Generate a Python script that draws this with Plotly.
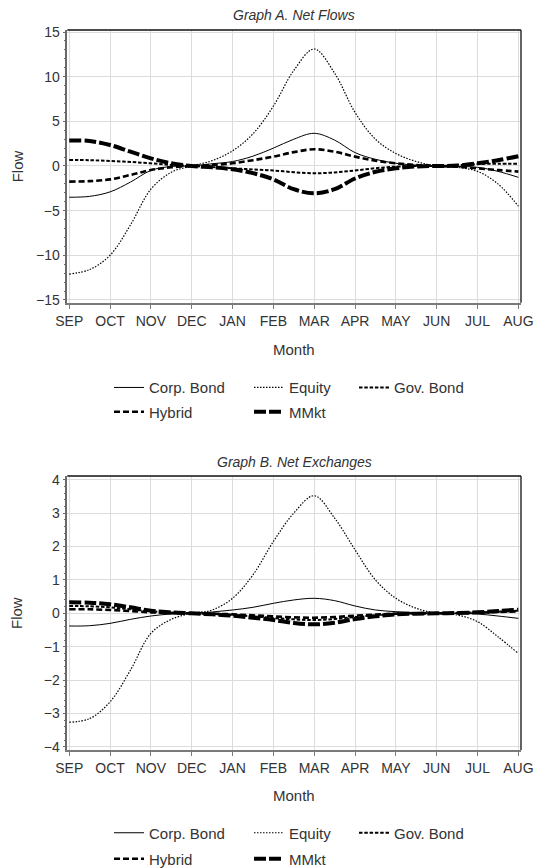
import plotly.graph_objects as go

# ---------------- data ----------------
months = ["SEP", "OCT", "NOV", "DEC", "JAN", "FEB", "MAR", "APR", "MAY", "JUN", "JUL", "AUG"]
# sample positions: every half month from SEP (0) to AUG (11)
t = [i / 2 for i in range(23)]

# Graph A. Net Flows
a_corp = [-3.5, -3.4, -2.9, -1.8, -0.5, -0.05, 0.0, 0.25, 0.5, 1.1, 2.0, 3.0, 3.66,
          2.9, 1.5, 0.75, 0.3, 0.1, 0.0, -0.05, -0.15, -0.6, -1.27]
a_equity = [-12.1, -11.6, -10.0, -6.6, -2.6, -0.7, 0.0, 0.6, 1.7, 3.6, 6.7, 10.7, 13.1,
            10.4, 6.0, 3.0, 1.4, 0.5, 0.0, -0.15, -0.6, -2.0, -4.5]
a_gov = [0.67, 0.65, 0.56, 0.45, 0.3, 0.12, 0.0, -0.12, -0.26, -0.38, -0.5, -0.7, -0.82,
         -0.72, -0.5, -0.25, -0.07, 0.0, 0.0, 0.08, 0.22, 0.25, 0.25]
a_hybrid = [-1.75, -1.7, -1.5, -1.0, -0.45, -0.15, 0.0, 0.12, 0.3, 0.65, 1.05, 1.55, 1.87,
            1.6, 1.05, 0.6, 0.3, 0.1, 0.0, -0.08, -0.26, -0.45, -0.63]
a_mmkt = [2.85, 2.8, 2.35, 1.6, 0.86, 0.3, 0.0, -0.15, -0.37, -0.8, -1.5, -2.6, -3.06,
          -2.6, -1.4, -0.65, -0.26, -0.05, 0.0, 0.05, 0.3, 0.65, 1.1]

# Graph B. Net Exchanges
b_corp = [-0.38, -0.37, -0.3, -0.18, -0.08, -0.02, 0.0, 0.04, 0.1, 0.18, 0.3, 0.4, 0.45,
          0.38, 0.22, 0.1, 0.05, 0.02, 0.0, 0.0, -0.02, -0.08, -0.15]
b_equity = [-3.26, -3.15, -2.65, -1.7, -0.6, -0.18, 0.0, 0.1, 0.45, 1.15, 2.15, 3.0, 3.52,
            2.85, 1.9, 1.0, 0.45, 0.15, 0.0, -0.05, -0.25, -0.7, -1.2]
b_gov = [0.22, 0.21, 0.18, 0.12, 0.06, 0.02, 0.0, -0.02, -0.05, -0.09, -0.14, -0.18, -0.2,
         -0.17, -0.11, -0.06, -0.02, 0.0, 0.0, 0.01, 0.02, 0.05, 0.08]
b_hybrid = [0.12, 0.12, 0.1, 0.07, 0.03, 0.01, 0.0, -0.01, -0.03, -0.06, -0.09, -0.12, -0.13,
            -0.11, -0.07, -0.04, -0.01, 0.0, 0.0, 0.01, 0.02, 0.04, 0.06]
b_mmkt = [0.33, 0.32, 0.27, 0.18, 0.08, 0.03, 0.0, -0.03, -0.07, -0.13, -0.2, -0.29, -0.33,
          -0.28, -0.17, -0.09, -0.03, -0.01, 0.0, 0.01, 0.03, 0.07, 0.11]

series_names = ["Corp. Bond", "Equity", "Gov. Bond", "Hybrid", "MMkt"]

# ---------------- styles ----------------
styles = {
    "Corp. Bond": dict(color="black", width=1, dash="solid"),
    "Equity": dict(color="black", width=1.2, dash="1.5px,1.5px"),
    "Gov. Bond": dict(color="black", width=2, dash="3.5px,1.8px"),
    "Hybrid": dict(color="black", width=2.6, dash="6px,3px"),
    "MMkt": dict(color="black", width=4, dash="12px,3px"),
}
legend_width = {"Corp. Bond": 95, "Equity": 60, "Gov. Bond": 80, "Hybrid": 95, "MMkt": 60}

FONT = "Liberation Sans, Arial, sans-serif"
TXT = "#333333"

fig = go.Figure()

panels = [
    ("x", "y", [a_corp, a_equity, a_gov, a_hybrid, a_mmkt], ("legend", "legend2")),
    ("x2", "y2", [b_corp, b_equity, b_gov, b_hybrid, b_mmkt], ("legend3", "legend4")),
]
for xa, ya, vals, (lg1, lg2) in panels:
    for i, (name, v) in enumerate(zip(series_names, vals)):
        fig.add_trace(go.Scatter(
            x=t, y=v, name=name, mode="lines",
            line=dict(shape="spline", smoothing=1.0, **styles[name]),
            xaxis=xa, yaxis=ya,
            legend=lg1 if i < 3 else lg2,
            legendwidth=legend_width[name],
            hoverinfo="skip",
        ))

xdom = [67.3 / 535, 521 / 535]
ydom_a = [1 - 302.7 / 868, 1 - 30 / 868]
ydom_b = [1 - 750 / 868, 1 - 476 / 868]

xcommon = dict(
    domain=xdom, range=[-0.047, 11.065], automargin=False,
    tickmode="array", tickvals=list(range(12)), ticktext=months,
    showgrid=True, gridcolor="#dcdcdc", gridwidth=1,
    showline=True, linecolor="#7a7a7a", linewidth=2,
    ticks="outside", ticklen=4, tickcolor="#7a7a7a", tickwidth=1,
    tickfont=dict(family=FONT, size=14, color=TXT),
    zeroline=False, fixedrange=True,
)
ycommon = dict(
    showgrid=True, gridcolor="#dcdcdc", gridwidth=1, automargin=False,
    showline=True, linecolor="#6a6a6a", linewidth=1.5,
    ticks="outside", ticklen=3, tickcolor="#6a6a6a", tickwidth=1,
    tickfont=dict(family=FONT, size=14, color=TXT),
    zeroline=False, fixedrange=True,
)

fig.update_layout(
    template="none",
    width=535, height=868,
    margin=dict(l=0, r=0, t=0, b=0, autoexpand=False),
    paper_bgcolor="white", plot_bgcolor="white",
    font=dict(family=FONT, size=14, color=TXT),
    showlegend=True,
    xaxis=dict(**xcommon, anchor="y"),
    xaxis2=dict(**xcommon, anchor="y2"),
    yaxis=dict(**ycommon, domain=ydom_a, range=[-15.31, 15.23], anchor="x",
               tickvals=[-15, -10, -5, 0, 5, 10, 15],
               minor=dict(ticks="outside", dtick=1, ticklen=2, tickcolor="#6a6a6a", showgrid=False)),
    yaxis2=dict(**ycommon, domain=ydom_b, range=[-4.09, 4.11], anchor="x2",
                tickvals=[-4, -3, -2, -1, 0, 1, 2, 3, 4],
                minor=dict(ticks="outside", dtick=0.2, ticklen=2, tickcolor="#6a6a6a", showgrid=False)),
)

leg_common = dict(orientation="h", xanchor="left", yanchor="middle",
                  bgcolor="rgba(0,0,0,0)", borderwidth=0, itemwidth=30,
                  font=dict(family=FONT, size=15, color=TXT), itemclick=False, itemdoubleclick=False)
lx = 109 / 535
fig.update_layout(
    legend=dict(**leg_common, x=lx, y=1 - 387.7 / 868),
    legend2=dict(**leg_common, x=lx, y=1 - 412 / 868),
    legend3=dict(**leg_common, x=lx, y=1 - 833 / 868),
    legend4=dict(**leg_common, x=lx, y=1 - 859 / 868),
)

# frame: top and right edges
for xa, ya in [("x", "y"), ("x2", "y2")]:
    fig.add_shape(type="line", xref=f"{xa} domain", yref=f"{ya} domain",
                  x0=0, x1=1, y0=1, y1=1, line=dict(color="#111111", width=1.3))
    fig.add_shape(type="line", xref=f"{xa} domain", yref=f"{ya} domain",
                  x0=1, x1=1, y0=0, y1=1, line=dict(color="#111111", width=1.3))

# titles and axis labels
xc = (xdom[0] + xdom[1]) / 2
annos = [
    dict(text="<i>Graph A. Net Flows</i>", x=xc, y=1 - 15 / 868, size=14),
    dict(text="<i>Graph B. Net Exchanges</i>", x=xc, y=1 - 462 / 868, size=14),
    dict(text="Month", x=xc, y=1 - 349 / 868, size=15),
    dict(text="Month", x=xc, y=1 - 795 / 868, size=15),
]
for a in annos:
    fig.add_annotation(text=a["text"], x=a["x"], y=a["y"], xref="paper", yref="paper",
                       xanchor="center", yanchor="middle", showarrow=False,
                       font=dict(family=FONT, size=a["size"], color=TXT))
for yc in [(ydom_a[0] + ydom_a[1]) / 2, (ydom_b[0] + ydom_b[1]) / 2]:
    fig.add_annotation(text="Flow", x=17 / 535, y=yc, xref="paper", yref="paper",
                       xanchor="center", yanchor="middle", showarrow=False, textangle=-90,
                       font=dict(family=FONT, size=15, color=TXT))

fig.write_html(
    "out.html",
    config={"displayModeBar": False},
    post_script="document.body.style.margin='0';document.body.style.padding='0';"
                "document.body.style.overflow='hidden';",
)
